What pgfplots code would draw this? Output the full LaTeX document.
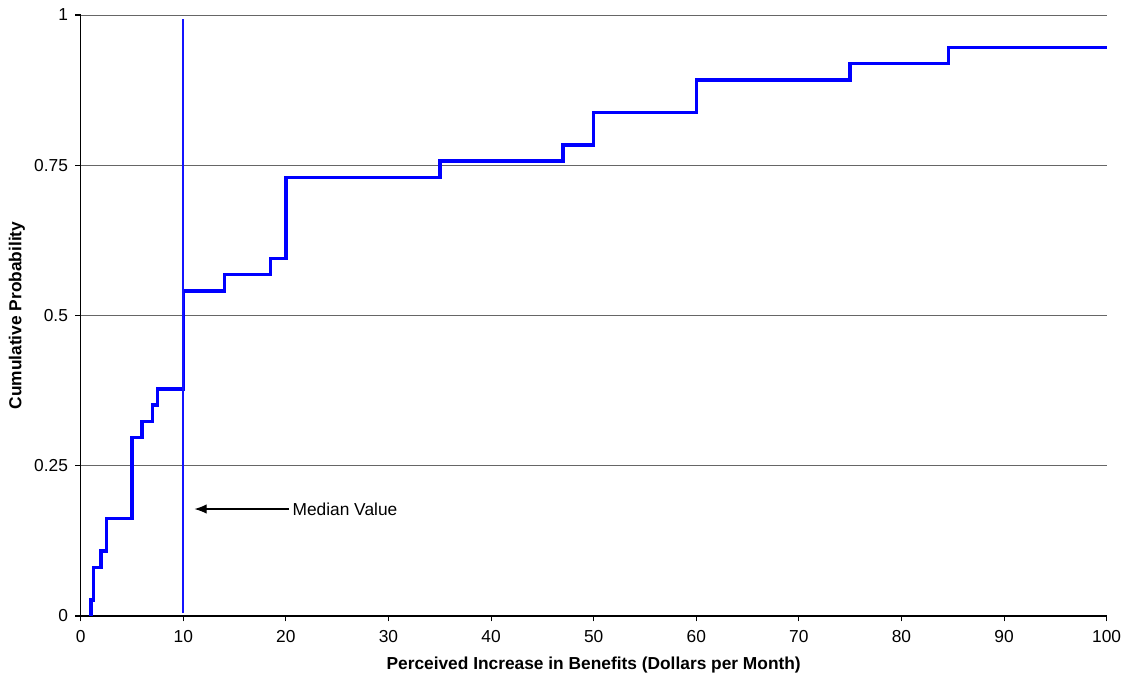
\documentclass[border=0pt]{standalone}
\usepackage{pgfplots}
\pgfplotsset{compat=1.18}
\usepackage{fontspec}
\setmainfont{Liberation Sans}
\usetikzlibrary{arrows.meta}
\definecolor{medblue}{RGB}{20,20,255}
\begin{document}
\begin{tikzpicture}
\path[use as bounding box] (-60.5pt,-47pt) rectangle (787pt,462pt);
\begin{axis}[
  at={(0,0)}, anchor=origin,
  scale only axis,
  width=769.5pt, height=450.75pt,
  xmin=0, xmax=100, ymin=0, ymax=1,
  axis x line*=bottom, axis y line*=left,
  axis line style={black, thick},
  xtick={0,10,...,100},
  ytick={0,0.25,0.5,0.75,1},
  yticklabels={0,0.25,0.5,0.75,1},
  tick align=outside,
  tick style={black, thick},
  major tick length=4pt,
  ymajorgrids,
  grid style={gray!80!black, line width=0.7pt},
  /pgf/number format/assume math mode=true,
  ticklabel style={font=\fontsize{13}{15}\selectfont},
  xticklabel style={yshift=-3pt},
  yticklabel style={xshift=-2pt},
  label style={font=\bfseries\fontsize{13}{15}\selectfont},
  xlabel={Perceived Increase in Benefits (Dollars per Month)},
  ylabel={Cumulative Probability},
  xlabel style={yshift=-4pt},
  clip=false,
]
\addplot[const plot, blue, line width=2.6pt] coordinates {
(1,0) (1,0.027) (1.25,0.081) (2,0.108) (2.5,0.162) (5,0.297) (6,0.324) (7,0.351) (7.5,0.378)
(10,0.541) (14,0.568) (18.5,0.595) (20,0.730) (35,0.757) (47,0.784) (50,0.838)
(60,0.892) (75,0.919) (84.6,0.946) (100,0.946)
};
\addplot[medblue, line width=1.4pt] coordinates {(10,0.005) (10,0.993)};
\draw[-{Latex[length=9pt,width=7pt]}, black, thick] (axis cs:20.3,0.178) -- (axis cs:11.1,0.178);
\node[anchor=west, font=\fontsize{13}{15}\selectfont, inner sep=1pt] at (axis cs:20.5,0.178) {Median Value};
\end{axis}
\end{tikzpicture}
\end{document}
